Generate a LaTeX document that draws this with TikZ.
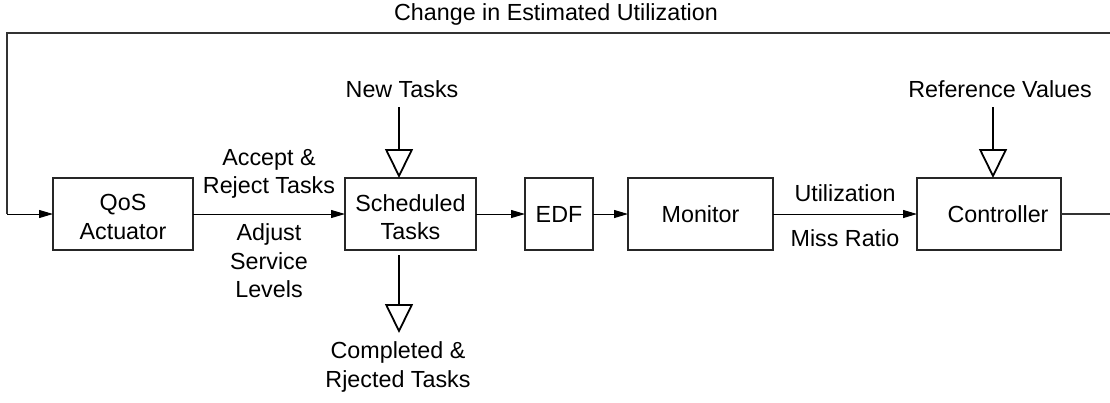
\documentclass[tikz,border=0pt]{standalone}
\usepackage{fontspec}
\setmainfont{Liberation Sans}
\usetikzlibrary{arrows.meta,calc}

\tikzset{
  every node/.style={font=\fontsize{23.3}{28.5}\selectfont, inner sep=0pt, outer sep=0pt},
  block/.style={draw=black!85, line width=1.1pt, minimum height=72pt, align=center},
  blocktext/.style={align=center, yshift=-3pt},
  flow/.style={draw=black, line width=1pt, -{Triangle[length=14pt,width=8pt]}},
  feedback/.style={draw=black!80, line width=1.3pt},
  inflow/.style={draw=black, line width=1.8pt, -{Triangle[open,length=29pt,width=28pt]}},
  lbl/.style={align=center}
}

\begin{document}
\begin{tikzpicture}[x=1pt,y=-1pt]
\useasboundingbox (0,0) rectangle (1110,402);

% processing blocks
\node[block, minimum width=140pt,
      label={[blocktext]center:{QoS\\Actuator}}] (qos) at (123,214) {};
\node[block, minimum width=131pt,
      label={[blocktext]center:{Scheduled\\Tasks}}] (sched) at (410.5,214) {};
\node[block, minimum width=68pt]  (edf)   at (559,214)   {EDF};
\node[block, minimum width=145pt] (mon)   at (700.5,214) {Monitor};
\node[block, minimum width=144pt] (ctrl)  at (989,214)   {\hspace*{18pt}Controller};

% forward path
\draw[flow] (qos.east) -- (sched.west)
  node[lbl, midway, yshift=40pt] (acc) {Accept \&\\Reject Tasks}
  node[lbl, midway, yshift=-47pt] (adj) {Adjust\\Service\\Levels};
\draw[flow] (sched.east) -- (edf.west);
\draw[flow] (edf.east) -- (mon.west);
\draw[flow] (mon.east) -- (ctrl.west)
  node[midway, yshift=21pt] (util) {Utilization}
  node[midway, yshift=-24pt] (miss) {Miss Ratio};

% feedback loop
\coordinate (fbR)  at (1110,214);
\coordinate (fbTR) at (1110,33);
\coordinate (fbL)  at (7,33);
\draw[feedback] (ctrl.east) -- (fbR);
\draw[feedback] (fbTR) -- (fbL) -- (fbL |- qos.west);
\draw[flow] (fbL |- qos.west) -- (qos.west);
\node (fbtxt) at (556,14) {Change in Estimated Utilization};

% external inputs and outputs
\node (newt) at (402,89) {New Tasks};
\coordinate (newin) at (399,107);
\draw[inflow] (newin) -- (newin |- sched.north);

\node (refv) at (1000,89) {Reference Values};
\coordinate (refin) at (993,107);
\draw[inflow] (refin) -- (refin |- ctrl.north);

\coordinate (outst) at (399,255);
\coordinate (outend) at (399,333);
\draw[inflow] (outst) -- (outend);
\node[lbl] (done) at (398,367) {Completed \&\\Rjected Tasks};
\end{tikzpicture}
\end{document}
